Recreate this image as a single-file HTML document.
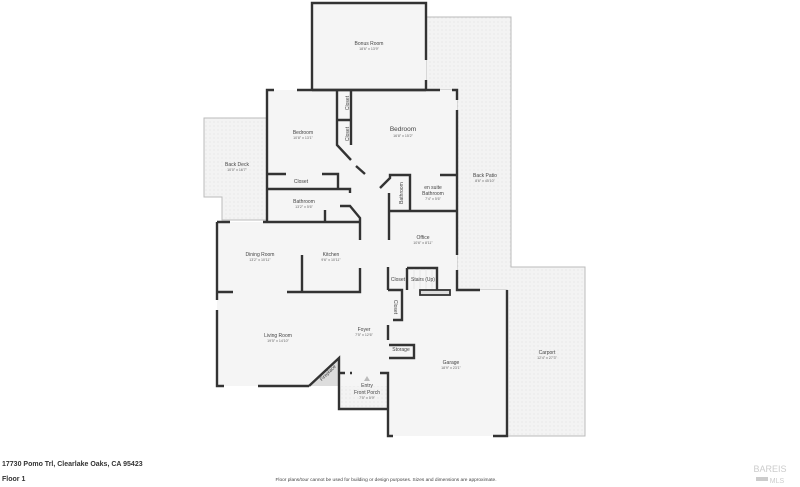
<!DOCTYPE html>
<html><head><meta charset="utf-8"><style>
html,body{margin:0;padding:0;background:#fff;width:800px;height:487px;overflow:hidden}
svg{display:block}
text{font-family:"Liberation Sans",sans-serif;fill:#444;text-anchor:middle}
.t{font-size:5px}.d{font-size:3.6px;fill:#666}
</style></head><body>
<svg width="800" height="487" viewBox="0 0 800 487">
<defs><pattern id="h" width="4" height="4" patternUnits="userSpaceOnUse"><rect width="4" height="4" fill="#f3f3f3"/><circle cx="2" cy="2" r="0.6" fill="#e2e2e2"/></pattern></defs>
<path d="M426 17H511V267H585V436H507V290H457V90H426Z" fill="url(#h)" stroke="#bbb" stroke-width="1"/>
<path d="M204 118H267V220H222V197H204Z" fill="url(#h)" stroke="#bbb" stroke-width="1"/>
<path d="M339 372H388V409H339Z" fill="url(#h)" stroke="#bbb" stroke-width="1"/>
<g fill="#f5f5f5">
<rect x="312" y="3" width="114" height="87"/>
<rect x="267" y="90" width="190" height="132"/>
<rect x="217" y="222" width="171" height="164"/>
<rect x="360" y="212" width="97" height="78"/>
<rect x="388" y="290" width="119" height="146"/>
</g>
<path d="M309 386L339 358V386Z" fill="#ddd"/>
<g stroke="#333" stroke-width="2.4" fill="none">
<path d="M312 90V3H426V60M426 80V90"/>
<path d="M312 90H426"/>
<path d="M274 90H267V222"/>
<path d="M297 90H440M452 90H457V100M457 110V212"/>
<path d="M337 90V145L351 160M356 166L365 174"/>
<path d="M351 90V145M337 120H351"/>
<path d="M267 174H286M322 174H338V188"/>
<path d="M267 189H350V193"/>
<path d="M217 222H230M263 222H360M325 210V222"/>
<path d="M340 206H350L360 218V222"/>
<path d="M380 188L390 178V175H410V211M389 193V240M389 211H457M440 175H457"/>
<path d="M360 222V240"/>
<path d="M217 222V300M217 310V386H224M258 386H309"/>
<path d="M217 292H233M287 292H360V268M302 255V292"/>
<path d="M309 386L339 358V409H388"/>
<path d="M339 373H345M350 373H352M380 373H388V436H393M493 436H507V290"/>
<path d="M388 267V290M388 325V340"/>
<path d="M388 290H402V320H393"/>
<path d="M389 345H414V358H389"/>
<path d="M407 268V290M407 268H437V290"/>
<path d="M457 212V255M457 270V290H480"/>
</g>
<rect x="420" y="290" width="30" height="5" fill="#ddd" stroke="#333" stroke-width="1.8"/>
<g stroke="#ddd" stroke-width="0.6"><path d="M414 269V289M420 269V289M426 269V289M432 269V289"/></g>
<text class="t" x="369" y="45">Bonus Room</text><text class="d" x="369" y="50">18'6" x 13'9"</text>
<text class="t" x="303" y="134">Bedroom</text><text class="d" x="303" y="139">10'8" x 13'1"</text>
<text style="font-size:6.5px" x="403" y="131">Bedroom</text><text class="d" x="403" y="137">16'8" x 15'2"</text>
<text class="t" x="301" y="183">Closet</text>
<text class="t" x="304" y="203">Bathroom</text><text class="d" x="304" y="208">13'2" x 5'6"</text>
<text class="t" x="237" y="166">Back Deck</text><text class="d" x="237" y="171">10'0" x 16'7"</text>
<text class="t" x="485" y="177">Back Patio</text><text class="d" x="485" y="182">8'6" x 45'10"</text>
<text class="t" x="433" y="189">en suite</text><text class="t" x="433" y="195">Bathroom</text><text class="d" x="433" y="200">7'4" x 5'6"</text>
<text class="t" transform="translate(403,193) rotate(-90)">Bathroom</text>
<text class="t" transform="translate(349,103) rotate(-90)">Closet</text>
<text class="t" transform="translate(349,134) rotate(-90)">Closet</text>
<text class="t" x="423" y="239">Office</text><text class="d" x="423" y="244">10'6" x 8'11"</text>
<text class="t" x="260" y="256">Dining Room</text><text class="d" x="260" y="261">13'2" x 10'11"</text>
<text class="t" x="331" y="256">Kitchen</text><text class="d" x="331" y="261">9'6" x 10'11"</text>
<text class="t" x="398" y="281">Closet</text><text class="t" x="423" y="281">Stairs (Up)</text>
<text class="t" transform="translate(394,307) rotate(90)">Closet</text>
<text class="t" x="364" y="331">Foyer</text><text class="d" x="364" y="336">7'5" x 12'6"</text>
<text class="t" x="278" y="337">Living Room</text><text class="d" x="278" y="342">19'5" x 14'10"</text>
<text class="t" x="401" y="351">Storage</text>
<text class="t" x="451" y="364">Garage</text><text class="d" x="451" y="369">18'9" x 23'1"</text>
<text class="t" x="547" y="354">Carport</text><text class="d" x="547" y="359">12'4" x 27'3"</text>
<text class="t" x="367" y="387">Entry</text><text class="t" x="367" y="394">Front Porch</text><text class="d" x="367" y="399">7'5" x 5'9"</text>
<text class="t" transform="translate(329,374) rotate(-45)">Fireplace</text>
<path d="M364 381L367 376L370 381Z" fill="#bbb"/>
<text x="2" y="466" style="font-size:7px;text-anchor:start;fill:#333;font-weight:bold">17730 Pomo Trl, Clearlake Oaks, CA 95423</text>
<text x="2" y="481" style="font-size:7px;text-anchor:start;fill:#333;font-weight:bold">Floor 1</text>
<text x="386" y="481" style="font-size:4.8px;fill:#444">Floor plans/tour cannot be used for building or design purposes. Sizes and dimensions are approximate.</text>
<text x="770" y="472" style="font-size:9px;fill:#ccc">BAREIS</text>
<rect x="756" y="477" width="12" height="4" fill="#ccc"/><text x="777" y="483" style="font-size:7px;fill:#ccc">MLS</text>
</svg>
</body></html>
